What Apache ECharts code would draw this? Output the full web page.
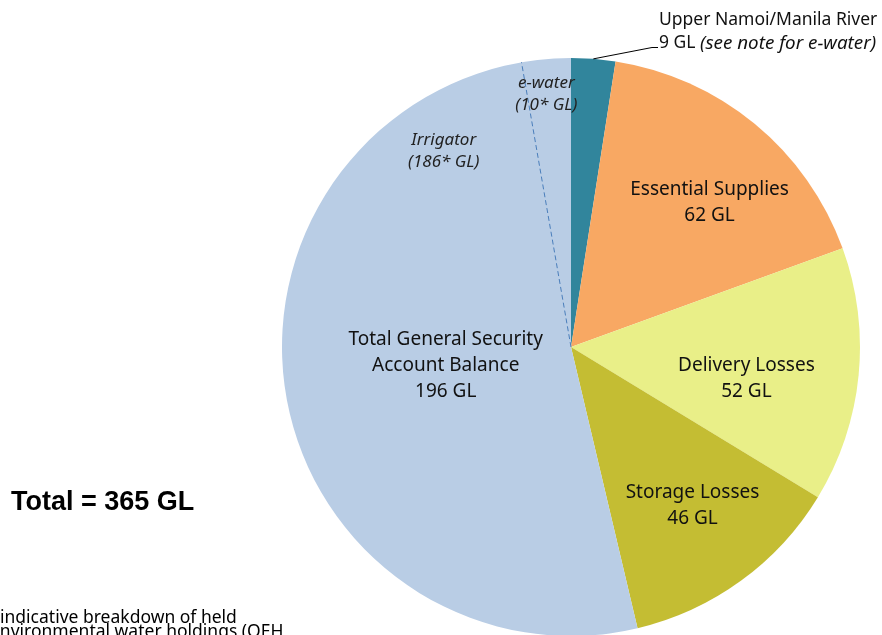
<!DOCTYPE html>
<html>
<head>
<meta charset="utf-8">
<script src="https://cdn.jsdelivr.net/npm/echarts@6/dist/echarts.min.js"></script>
<style>
html,body{margin:0;padding:0;background:#fff;overflow:hidden}
#c{width:882px;height:635px}
</style>
</head>
<body>
<div id="c"></div>
<script>
// ---- data ----
const categories = ['Upper Namoi/Manila River', 'Essential Supplies', 'Delivery Losses', 'Storage Losses', 'Total General Security\nAccount Balance'];
const values = [9, 62, 52, 46, 196];
const splitNames = ['Irrigator', 'e-water'];
const splitValues = [186, 10];
const totalLabel = 'Total = 365 GL';
const noteLines = ['indicative breakdown of held', 'environmental water holdings (OEH'];

// ---- style / layout ----
const colors = ['#31859C', '#F8A863', '#E9EF88', '#C4BD33', '#B9CDE5'];
const CX = 571, CY = 347, R = 289;
const labelDist = [null, 0.70, 0.61, 0.68, 0.44];
const labelShift = [null, [10, 12], [0, 14], [6, 0], [1, 4]];
const FONT = 'Noto Sans';

const total = values.reduce((a, b) => a + b, 0);
const midAngles = [];
let acc = 0;
values.forEach(v => { midAngles.push((acc + v / 2) / total * 2 * Math.PI); acc += v; });

const chart = echarts.init(document.getElementById('c'));

const data = values.map((v, i) => {
  const item = { name: categories[i], value: v, itemStyle: { color: colors[i] } };
  if (i === 0) {
    item.label = {
      position: 'outside',
      formatter: '{a|Upper Namoi/Manila River}\n{a|' + v + ' GL }{i|(see note for e-water)}',
      rich: {
        a: { fontFamily: FONT, fontSize: 17.5, color: '#111', lineHeight: 23 },
        i: { fontFamily: FONT, fontSize: 18.8, fontStyle: 'italic', color: '#111', lineHeight: 23 }
      }
    };
    item.labelLine = { show: false };
  } else {
    item.label = {
      position: 'inside',
      formatter: '{b}\n' + v + ' GL',
      fontFamily: FONT, fontSize: 19, color: '#111', lineHeight: 26, align: 'center'
    };
    item.labelLine = { show: false };
  }
  return item;
});

// e-water divider derived from data
const ewAngle = splitValues[1] / total * 2 * Math.PI;
function polar(frac, ang) { return [CX + R * frac * Math.sin(ang), CY - R * frac * Math.cos(ang)]; }
const ewEdge = polar(1, 2 * Math.PI - ewAngle);
const irrPos = polar(0.81, 2 * Math.PI - 0.575);
const ewPos = polar(0.89, 2 * Math.PI - ewAngle / 2 - 0.01);
const leadStart = polar(1, midAngles[0]);

chart.setOption({
  animation: false,
  backgroundColor: '#fff',
  series: [{
    type: 'pie',
    center: [CX, CY],
    radius: [0, R],
    startAngle: 90,
    clockwise: true,
    avoidLabelOverlap: false,
    silent: true,
    itemStyle: { borderWidth: 0 },
    data: data,
    labelLayout: function (p) {
      const i = p.dataIndex;
      if (i === 0) {
        return { x: 659, y: 32, align: 'left', verticalAlign: 'middle' };
      }
      const pt = polar(labelDist[i], midAngles[i]);
      return { x: pt[0] + labelShift[i][0], y: pt[1] + labelShift[i][1], align: 'center', verticalAlign: 'middle' };
    }
  }],
  graphic: [
    { type: 'polyline', silent: true, z: 10,
      shape: { points: [leadStart, [652, 47.5], [658, 47.5]] },
      style: { stroke: '#000', lineWidth: 1, fill: null } },
    { type: 'line', silent: true, shape: { x1: CX, y1: CY, x2: ewEdge[0], y2: ewEdge[1] },
      style: { stroke: '#4A7EBB', lineWidth: 1, lineDash: [5, 3] }, z: 10 },
    { type: 'text', x: irrPos[0], y: irrPos[1] + 1, z: 10,
      style: { text: splitNames[0] + '\n(' + splitValues[0] + '* GL)', fontFamily: FONT, fontSize: 17, fontStyle: 'italic',
        fill: '#222', align: 'center', verticalAlign: 'middle', lineHeight: 22 } },
    { type: 'text', x: ewPos[0], y: ewPos[1] + 3, z: 10,
      style: { text: splitNames[1] + '\n(' + splitValues[1] + '* GL)', fontFamily: FONT, fontSize: 17, fontStyle: 'italic',
        fill: '#222', align: 'center', verticalAlign: 'middle', lineHeight: 22 } },
    { type: 'text', x: 11, y: 503,
      style: { text: totalLabel, fontFamily: 'Liberation Sans', fontSize: 27, fontWeight: 'bold', fill: '#000', verticalAlign: 'middle' } },
    { type: 'text', x: 0, y: 618,
      style: { text: noteLines[0], fontFamily: FONT, fontSize: 17.5, fill: '#000', verticalAlign: 'middle' } },
    { type: 'text', x: -10, y: 632,
      style: { text: noteLines[1], fontFamily: FONT, fontSize: 17.5, fill: '#000', verticalAlign: 'middle' } }
  ]
});
</script>
</body>
</html>
